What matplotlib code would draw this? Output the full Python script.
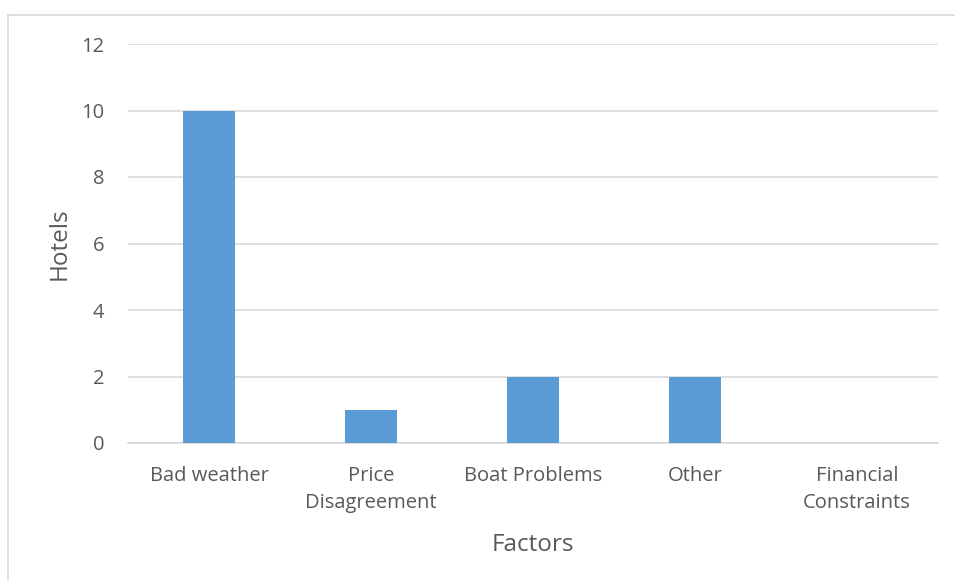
import matplotlib
matplotlib.use("Agg")
import matplotlib.pyplot as plt
from matplotlib.lines import Line2D

categories = ["Bad weather", "Price\nDisagreement", "Boat Problems", "Other", "Financial\nConstraints"]
hotels = [10, 1, 2, 2, 0]
y_ticks = [0, 2, 4, 6, 8, 10, 12]

BAR = "#5B9BD5"
GRID = "#D9D9D9"
TEXT = "#595959"

plt.rcParams["font.family"] = ["Open Sans", "DejaVu Sans"]

W, H = 955, 581
fig = plt.figure(figsize=(W / 100, H / 100), dpi=100)
ax = fig.add_axes([128 / W, 1 - 443 / H, 810 / W, 399 / H])

x = list(range(len(categories)))
ax.bar(x, hotels, width=0.32, color=BAR, zorder=3)

ax.set_xlim(-0.5, len(categories) - 0.5)
ax.set_ylim(0, 12)
ax.set_yticks(y_ticks)
ax.set_xticks(x)
ax.set_xticklabels(categories, color=TEXT, fontsize=14.5, linespacing=1.5)
ax.tick_params(axis="y", labelcolor=TEXT, labelsize=14.5, length=0, pad=17)
ax.tick_params(axis="x", length=0, pad=16.5)

ax.grid(axis="y", color=GRID, linewidth=1.2, zorder=0)
for s in ["top", "right", "left"]:
    ax.spines[s].set_visible(False)
ax.spines["bottom"].set_color(GRID)
ax.spines["bottom"].set_linewidth(1.2)

ax.set_ylabel("Hotels", color=TEXT, fontsize=17.5, labelpad=7)
ax.set_xlabel("Factors", color=TEXT, fontsize=17.5, labelpad=14)

# outer chart-area frame (left and top edges)
fig.add_artist(Line2D([7.5 / W, 7.5 / W], [0, 1 - 14.5 / H], color=GRID, linewidth=1.2))
fig.add_artist(Line2D([7.5 / W, 1], [1 - 14.5 / H, 1 - 14.5 / H], color=GRID, linewidth=1.2))

fig.savefig("out.png", dpi=100, facecolor="white")
